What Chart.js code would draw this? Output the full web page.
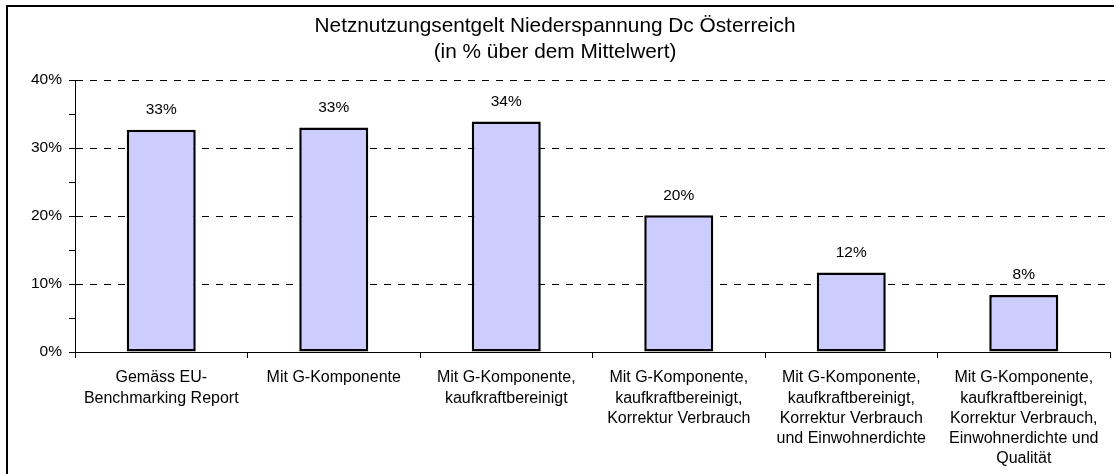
<!DOCTYPE html>
<html>
<head>
<meta charset="utf-8">
<script src="https://cdn.jsdelivr.net/npm/chart.js@4.4.1/dist/chart.umd.min.js"></script>
<style>
	html, body { margin: 0; padding: 0; background: #fff; }
	#wrap { width: 1114px; height: 474px; position: relative; }
</style>
</head>
<body>
<div id="wrap"><canvas id="chart"></canvas></div>
<script>
const titleLines = ['Netznutzungsentgelt Niederspannung Dc Österreich', '(in % über dem Mittelwert)'];

const categories = [
	['Gemäss EU-', 'Benchmarking Report'],
	['Mit G-Komponente'],
	['Mit G-Komponente,', 'kaufkraftbereinigt'],
	['Mit G-Komponente,', 'kaufkraftbereinigt,', 'Korrektur Verbrauch'],
	['Mit G-Komponente,', 'kaufkraftbereinigt,', 'Korrektur Verbrauch', 'und Einwohnerdichte'],
	['Mit G-Komponente,', 'kaufkraftbereinigt,', 'Korrektur Verbrauch,', 'Einwohnerdichte und', 'Qualität']
];

// percent above the mean
const values = [32.7, 33.0, 33.9, 20.1, 11.7, 8.4];

const yMin = 0;
const yMax = 40;

const fontFamily = '"Liberation Sans", Arial, sans-serif';

// outer frame of the chart object
const framePlugin = {
	id: 'frame',
	afterDraw: (chart) => {
		const ctx = chart.ctx;
		ctx.save();
		ctx.strokeStyle = '#000';
		ctx.lineWidth = 2;
		ctx.strokeRect(7, 6, 1300, 700);
		ctx.restore();
	}
};

// value labels above each bar
const valueLabels = {
	id: 'valueLabels',
	afterDatasetsDraw: (chart) => {
		const ctx = chart.ctx;
		const meta = chart.getDatasetMeta(0);
		ctx.save();
		ctx.font = '15.5px ' + fontFamily;
		ctx.fillStyle = '#000';
		ctx.textAlign = 'center';
		ctx.textBaseline = 'middle';
		meta.data.forEach((bar, i) => {
			ctx.fillText(Math.round(values[i]) + '%', bar.x, bar.y - 20);
		});
		ctx.restore();
	}
};

new Chart(document.getElementById('chart'), {
	type: 'bar',
	data: {
		labels: categories,
		datasets: [{
			data: values,
			backgroundColor: '#CCCCFF',
			borderColor: '#000',
			borderWidth: 2.5,
			borderSkipped: false,
			barPercentage: 0.4,
			categoryPercentage: 1.0
		}]
	},
	options: {
		responsive: true,
		maintainAspectRatio: false,
		animation: false,
		layout: {
			padding: { left: 0, right: 4, top: 0, bottom: 0 }
		},
		plugins: {
			legend: { display: false },
			tooltip: { enabled: false },
			title: {
				display: true,
				text: titleLines,
				color: '#000',
				font: { family: fontFamily, size: 20.8, weight: 'normal', lineHeight: 1.25 },
				padding: { top: 13, bottom: 15 }
			}
		},
		scales: {
			x: {
				afterFit: (scale) => { scale.height = 122; },
				grid: {
					drawOnChartArea: false,
					drawTicks: true,
					tickLength: 6,
					color: '#000',
					offset: true
				},
				border: { display: true, color: '#000', width: 1 },
				ticks: {
					color: '#000',
					font: { family: fontFamily, size: 16, lineHeight: 1.26 },
					maxRotation: 0,
					autoSkip: false,
					padding: 10
				}
			},
			y: {
				min: yMin,
				max: yMax,
				afterFit: (scale) => { scale.width = 75; },
				ticks: {
					stepSize: 5,
					color: '#000',
					font: { family: fontFamily, size: 15.5 },
					padding: 7,
					callback: (v) => (v % 10 === 0 ? v + '%' : '')
				},
				grid: {
					color: (c) => (c.tick && c.tick.value % 10 === 0 && c.tick.value !== 0 ? '#000' : 'rgba(0,0,0,0)'),
					tickColor: '#000',
					tickLength: 6,
					tickBorderDash: [],
					lineWidth: 1
				},
				border: { display: true, color: '#000', width: 1, dash: [7, 7] }
			}
		}
	},
	plugins: [framePlugin, valueLabels]
});
</script>
</body>
</html>
